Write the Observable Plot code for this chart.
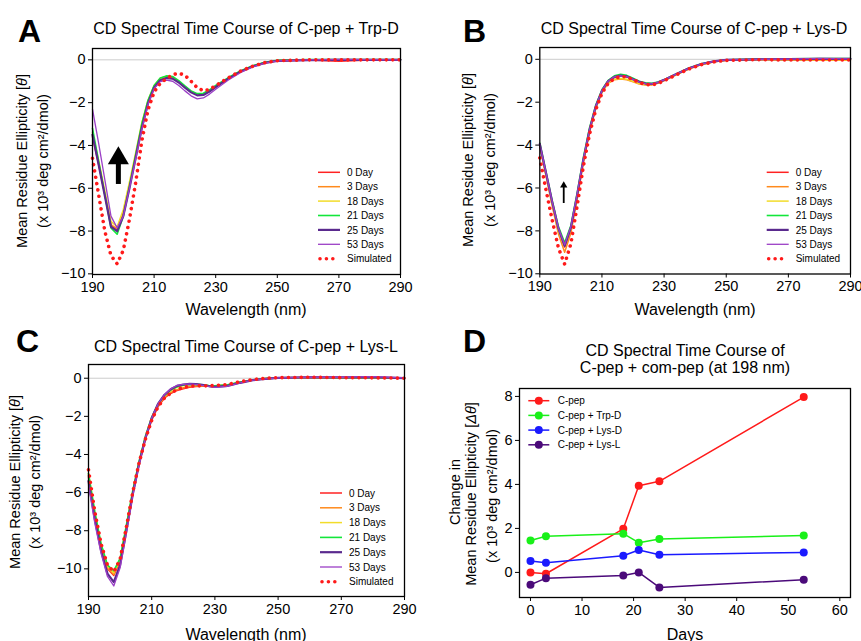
<!DOCTYPE html>
<html><head><meta charset="utf-8">
<script src="https://cdn.jsdelivr.net/npm/d3@7"></script>
<script src="https://cdn.jsdelivr.net/npm/@observablehq/plot@0.6"></script>
<style>
body{margin:0;background:#fff;}
#fig{position:relative;width:861px;height:641px;overflow:hidden;background:#fff;}
.panel{position:absolute;}
.panel svg{max-width:none !important;}
</style></head><body><div id="fig"></div>
<script>
const FONT = '"Liberation Sans", Arial, sans-serif';

// ---------- Spectral data (x 10^3 deg cm2/dmol) ----------
const wavelengths = [190,192,194,196,198,200,202,204,206,208,210,212,214,216,218,220,222,224,226,228,230,234,238,242,246,250,260,270,280,290];
const wavelengthTicks = [190,210,230,250,270,290];
const seriesNames = ["0 Day","3 Days","18 Days","21 Days","25 Days","53 Days","Simulated"];
const seriesColors = ["#ff2222","#ff8a1c","#f2dc2a","#12e63a","#5a2a8e","#9b3fc6","#ff1a1a"];
const seriesWidths = [1.5,1.5,1.5,1.6,2.2,1.3];

const trpD = [
  [-3.6,-4.9,-6.3,-7.75,-7.95,-7.2,-5.9,-4.5,-3.1,-2.0,-1.27,-0.92,-0.8,-0.83,-1.02,-1.27,-1.5,-1.64,-1.62,-1.46,-1.26,-0.88,-0.55,-0.3,-0.13,-0.04,-0.01,-0.06,-0.01,0],
  [-3.5,-4.85,-6.25,-7.7,-7.9,-7.15,-5.85,-4.45,-3.05,-1.98,-1.25,-0.9,-0.8,-0.84,-1.03,-1.28,-1.5,-1.63,-1.6,-1.45,-1.25,-0.87,-0.54,-0.3,-0.13,-0.04,0,-0.02,0,0],
  [-3.4,-4.7,-6.1,-7.55,-7.8,-7.0,-5.7,-4.35,-2.95,-1.9,-1.2,-0.86,-0.76,-0.8,-1.0,-1.25,-1.47,-1.6,-1.58,-1.43,-1.23,-0.86,-0.53,-0.29,-0.12,-0.03,0,0,0,0],
  [-3.2,-4.75,-6.3,-7.85,-8.15,-7.3,-5.9,-4.45,-3.0,-1.9,-1.2,-0.85,-0.75,-0.78,-0.97,-1.22,-1.45,-1.58,-1.56,-1.4,-1.2,-0.84,-0.52,-0.28,-0.11,-0.02,0.01,0.01,0.01,0.01],
  [-3.5,-4.9,-6.35,-7.8,-8.0,-7.3,-6.0,-4.6,-3.2,-2.05,-1.3,-0.95,-0.85,-0.88,-1.06,-1.3,-1.52,-1.66,-1.64,-1.48,-1.27,-0.89,-0.56,-0.31,-0.14,-0.05,-0.01,0,0,0],
  [-2.3,-3.9,-5.6,-7.3,-7.85,-7.3,-6.0,-4.65,-3.25,-2.1,-1.35,-1.02,-0.95,-1.0,-1.2,-1.45,-1.68,-1.82,-1.78,-1.6,-1.37,-0.95,-0.6,-0.33,-0.15,-0.05,0,0.02,0.01,0],
  [-4.6,-6.3,-8.0,-9.15,-9.53,-8.9,-7.45,-5.75,-3.8,-2.35,-1.5,-1.1,-0.88,-0.7,-0.62,-0.72,-1.0,-1.3,-1.45,-1.38,-1.2,-0.85,-0.53,-0.3,-0.13,-0.04,0,0,0,0]
];
const lysD = [
  [-4.0,-5.35,-6.7,-7.95,-8.75,-7.9,-6.4,-4.75,-3.35,-2.25,-1.5,-1.05,-0.85,-0.78,-0.82,-0.95,-1.07,-1.15,-1.17,-1.1,-0.98,-0.7,-0.44,-0.24,-0.11,-0.04,-0.01,-0.02,-0.03,-0.02],
  [-4.05,-5.45,-6.85,-8.15,-9.0,-8.1,-6.55,-4.85,-3.4,-2.3,-1.55,-1.12,-0.95,-0.92,-0.95,-1.05,-1.15,-1.2,-1.2,-1.12,-1.0,-0.72,-0.45,-0.25,-0.12,-0.05,-0.02,-0.03,-0.03,-0.03],
  [-4.0,-5.4,-6.75,-8.0,-8.7,-7.9,-6.4,-4.75,-3.35,-2.27,-1.52,-1.1,-0.93,-0.9,-0.93,-1.03,-1.13,-1.18,-1.18,-1.1,-0.98,-0.7,-0.44,-0.24,-0.11,-0.04,-0.01,-0.02,-0.02,-0.02],
  [-3.9,-5.25,-6.6,-7.8,-8.55,-7.75,-6.25,-4.6,-3.2,-2.15,-1.42,-0.98,-0.77,-0.7,-0.75,-0.88,-1.02,-1.1,-1.12,-1.06,-0.95,-0.67,-0.41,-0.21,-0.09,-0.02,0.01,0.02,0.03,0.04],
  [-3.95,-5.3,-6.65,-7.9,-8.7,-7.85,-6.35,-4.7,-3.3,-2.2,-1.47,-1.02,-0.82,-0.76,-0.8,-0.93,-1.05,-1.13,-1.15,-1.08,-0.96,-0.68,-0.42,-0.22,-0.1,-0.03,0,0.01,0.02,0.02],
  [-3.95,-5.3,-6.65,-7.88,-8.65,-7.8,-6.3,-4.68,-3.28,-2.2,-1.46,-1.02,-0.82,-0.77,-0.81,-0.94,-1.06,-1.13,-1.15,-1.08,-0.96,-0.68,-0.42,-0.22,-0.1,-0.03,0,0.01,0.04,0.02],
  [-4.6,-6.1,-7.5,-8.8,-9.55,-8.6,-6.85,-5.0,-3.5,-2.35,-1.58,-1.12,-0.9,-0.8,-0.82,-0.95,-1.08,-1.17,-1.2,-1.13,-1.0,-0.72,-0.45,-0.25,-0.12,-0.05,-0.02,-0.03,-0.03,-0.03]
];
const lysL = [
  [-5.2,-7.2,-8.9,-10.0,-10.35,-9.6,-7.85,-6.05,-4.5,-3.2,-2.2,-1.5,-1.05,-0.8,-0.64,-0.55,-0.48,-0.44,-0.42,-0.42,-0.42,-0.36,-0.22,-0.1,-0.03,0.01,0.04,0.03,0.03,0],
  [-5.1,-7.15,-8.85,-9.95,-10.3,-9.55,-7.8,-6.0,-4.45,-3.15,-2.15,-1.45,-1.0,-0.75,-0.6,-0.5,-0.44,-0.41,-0.4,-0.41,-0.41,-0.35,-0.21,-0.09,-0.02,0.02,0.04,0.03,0.03,0],
  [-5.0,-7.05,-8.75,-9.85,-10.2,-9.5,-7.75,-5.95,-4.4,-3.1,-2.1,-1.38,-0.92,-0.65,-0.48,-0.38,-0.34,-0.33,-0.35,-0.38,-0.4,-0.35,-0.21,-0.09,-0.02,0.02,0.04,0.03,0.04,0],
  [-5.0,-7.0,-8.7,-9.8,-10.1,-9.45,-7.7,-5.9,-4.35,-3.05,-2.05,-1.35,-0.9,-0.62,-0.45,-0.36,-0.32,-0.32,-0.35,-0.38,-0.4,-0.35,-0.2,-0.08,-0.02,0.02,0.04,0.03,0.04,0.01],
  [-5.4,-7.4,-9.05,-10.25,-10.7,-9.8,-8.0,-6.1,-4.5,-3.15,-2.1,-1.35,-0.88,-0.58,-0.4,-0.33,-0.3,-0.31,-0.35,-0.41,-0.45,-0.4,-0.24,-0.1,-0.03,0.02,0.05,0.04,0.06,0.01],
  [-5.6,-7.6,-9.2,-10.4,-10.9,-9.95,-8.1,-6.15,-4.55,-3.15,-2.1,-1.35,-0.87,-0.56,-0.38,-0.32,-0.3,-0.32,-0.37,-0.43,-0.48,-0.42,-0.25,-0.1,-0.03,0.02,0.05,0.05,0.08,0.02],
  [-4.8,-7.0,-8.7,-9.8,-10.15,-9.5,-7.8,-6.0,-4.45,-3.2,-2.2,-1.5,-1.05,-0.78,-0.6,-0.48,-0.42,-0.4,-0.4,-0.4,-0.38,-0.33,-0.18,-0.07,0,0.03,0.05,0.03,0.02,0]
];
const arrowA = [{x: 198.4, y1: -5.8, y2: -4.6}];
const arrowB = [{x: 197.7, y1: -6.7, y2: -5.88}];

// ---------- Panel D data ----------
const days = [0, 3, 18, 21, 25, 53];
const dayTicks = [0, 10, 20, 30, 40, 50, 60];
const compNames = ["C-pep", "C-pep + Trp-D", "C-pep + Lys-D", "C-pep + Lys-L"];
const compColors = ["#ff1a1a", "#19f019", "#1a1aff", "#4b0a7a"];
const cpepDelta = [0, -0.06, 1.98, 3.94, 4.14, 7.97];
const trpDDelta = [1.45, 1.64, 1.76, 1.35, 1.52, 1.68];
const lysDDelta = [0.52, 0.44, 0.76, 1.02, 0.80, 0.91];
const lysLDelta = [-0.56, -0.26, -0.14, 0.0, -0.68, -0.33];

// ---------- helpers ----------
const DOT = {width: 3.6, dash: "0.01,6.4", cap: "round"};
const fig = document.getElementById("fig");
function mount(svg, left, top) {
  const d = document.createElement("div");
  d.className = "panel"; d.style.left = left + "px"; d.style.top = top + "px";
  d.appendChild(svg); fig.appendChild(d);
}
function txt(svg, x, y, parts, o = {}) {
  const t = d3.select(svg).append("text")
    .attr("x", x).attr("y", y)
    .attr("font-family", FONT)
    .attr("font-size", o.size || 14)
    .attr("font-weight", o.weight || "normal")
    .attr("text-anchor", o.anchor || "start")
    .attr("fill", "#000");
  if (o.rotate) t.attr("transform", `rotate(-90 ${x} ${y})`);
  (Array.isArray(parts) ? parts : [[parts]]).forEach(([s, st]) => {
    const sp = t.append("tspan").text(s);
    if (st === "i") sp.attr("font-style", "italic");
  });
  return t;
}
function styleObj() {
  return {fontFamily: FONT, fontSize: "14.5px", color: "#000", background: "transparent", overflow: "visible"};
}

function spectra(values, cfg) {
  const marks = [Plot.ruleY([0], {stroke: "#cccccc", strokeWidth: 1})];
  for (let i = 0; i < 6; i++) {
    const data = wavelengths.map((w, j) => ({w, v: values[i][j]}));
    marks.push(Plot.line(data, {x: "w", y: "v", stroke: seriesColors[i], strokeWidth: seriesWidths[i]}));
  }
  const sim = wavelengths.map((w, j) => ({w, v: values[6][j]}));
  marks.push(Plot.line(sim, {x: "w", y: "v", stroke: seriesColors[6], strokeWidth: DOT.width, strokeDasharray: DOT.dash, strokeLinecap: DOT.cap}));
  if (cfg.arrow) {
    marks.push(Plot.link(cfg.arrow, {x1: "x", x2: "x", y1: "y1", y2: "y2", stroke: "#000", strokeWidth: cfg.arrowShaft}));
    marks.push(Plot.dot(cfg.arrow, {x: "x", y: "y2", symbol: "triangle", r: cfg.arrowHead, fill: "#000", stroke: "none"}));
  }
  marks.push(Plot.frame({stroke: "#000", strokeWidth: 1.3}));
  return Plot.plot({
    width: cfg.width, height: cfg.height,
    marginLeft: cfg.m[0], marginRight: cfg.m[1], marginTop: cfg.m[2], marginBottom: cfg.m[3],
    x: {domain: [190, 290], ticks: wavelengthTicks, label: null, tickSize: 4, tickPadding: 3},
    y: {domain: cfg.yDomain, ticks: cfg.yTicks, label: null, tickSize: 4, tickPadding: 3},
    style: styleObj(),
    marks
  });
}
function spectraLegend(svg, x0, y0, dy) {
  const g = d3.select(svg).append("g");
  seriesNames.forEach((n, i) => {
    const y = y0 + i * dy;
    const l = g.append("line").attr("y1", y).attr("y2", y).attr("stroke", seriesColors[i]);
    if (i === 6) l.attr("x1", x0 + 2).attr("x2", x0 + 21).attr("stroke-width", DOT.width).attr("stroke-dasharray", DOT.dash).attr("stroke-linecap", DOT.cap);
    else l.attr("x1", x0).attr("x2", x0 + 22).attr("stroke-width", seriesWidths[i]);
    txt(svg, x0 + 29, y + 3.6, n, {size: 10});
  });
}
function spectraLabels(svg, p) {
  txt(svg, p.letter[0], p.letter[1], p.letterText, {size: 32, weight: "bold"});
  txt(svg, p.title[0], p.title[1], p.titleText, {size: 16, anchor: "middle"});
  txt(svg, p.yl1[0], p.yl1[1], [["Mean Residue Ellipticity ["], ["θ", "i"], ["]"]], {size: 14.5, anchor: "middle", rotate: true});
  txt(svg, p.yl2[0], p.yl2[1], "(x 10³ deg cm²/dmol)", {size: 14.5, anchor: "middle", rotate: true});
  txt(svg, p.xl[0], p.xl[1], "Wavelength (nm)", {size: 16, anchor: "middle"});
}

// ---------- Panel A ----------
const svgA = spectra(trpD, {width: 430, height: 320, m: [92, 30, 48, 46], yDomain: [-10.03, 0.53], yTicks: [0,-2,-4,-6,-8,-10], arrow: arrowA, arrowShaft: 5, arrowHead: 7.8});
spectraLabels(svgA, {letter: [18, 42], letterText: "A", title: [246, 34], titleText: "CD Spectral Time Course of C-pep + Trp-D", yl1: [27, 161], yl2: [47.5, 161], xl: [246, 315]});
spectraLegend(svgA, 318, 172.3, 14.4);
mount(svgA, 0, 0);

// ---------- Panel B ----------
const svgB = spectra(lysD, {width: 431, height: 320, m: [109.3, 11, 47, 46.5], yDomain: [-10.01, 0.55], yTicks: [0,-2,-4,-6,-8,-10], arrow: arrowB, arrowShaft: 1.8, arrowHead: 2.7});
spectraLabels(svgB, {letter: [33, 42], letterText: "B", title: [264, 34], titleText: "CD Spectral Time Course of C-pep + Lys-D", yl1: [43, 160], yl2: [64.5, 160], xl: [265, 315]});
spectraLegend(svgB, 336.7, 172.3, 14.4);
mount(svgB, 430, 0);

// ---------- Panel C ----------
const svgC = spectra(lysL, {width: 430, height: 321, m: [88, 26, 44, 45], yDomain: [-11.45, 0.72], yTicks: [0,-2,-4,-6,-8,-10]});
spectraLabels(svgC, {letter: [16, 32], letterText: "C", title: [246, 31.7], titleText: "CD Spectral Time Course of C-pep + Lys-L", yl1: [20.3, 162], yl2: [40.3, 162], xl: [246, 320]});
spectraLegend(svgC, 320, 173, 14.8);
mount(svgC, 0, 320);

// ---------- Panel D ----------
const comp = [cpepDelta, trpDDelta, lysDDelta, lysLDelta];
const marksD = [];
comp.forEach((vals, i) => {
  const data = days.map((d, j) => ({d, v: vals[j]}));
  marksD.push(Plot.line(data, {x: "d", y: "v", stroke: compColors[i], strokeWidth: 1.5}));
  marksD.push(Plot.dot(data, {x: "d", y: "v", fill: compColors[i], r: 4, stroke: "none"}));
});
marksD.push(Plot.frame({stroke: "#000", strokeWidth: 1.3}));
const svgD = Plot.plot({
  width: 431, height: 321,
  marginLeft: 89, marginRight: 11, marginTop: 68, marginBottom: 44,
  x: {domain: [-2.13, 62.07], ticks: dayTicks, label: null, tickSize: 4, tickPadding: 3},
  y: {domain: [-1.14, 8.36], ticks: [0, 2, 4, 6, 8], label: null, tickSize: 4, tickPadding: 3},
  style: styleObj(),
  marks: marksD
});
txt(svgD, 33, 32, "D", {size: 32, weight: "bold"});
txt(svgD, 255, 36, "CD Spectral Time Course of", {size: 16, anchor: "middle"});
txt(svgD, 255, 53, "C-pep + com-pep (at 198 nm)", {size: 16, anchor: "middle"});
txt(svgD, 30, 172, "Change in", {size: 14.5, anchor: "middle", rotate: true});
txt(svgD, 46, 174, [["Mean Residue Ellipticity ["], ["Δθ", "i"], ["]"]], {size: 14.5, anchor: "middle", rotate: true});
txt(svgD, 66.5, 176, "(x 10³ deg cm²/dmol)", {size: 14.5, anchor: "middle", rotate: true});
txt(svgD, 255, 320, "Days", {size: 16, anchor: "middle"});
{
  const g = d3.select(svgD).append("g");
  compNames.forEach((n, i) => {
    const y = 80.7 + i * 14.7;
    g.append("line").attr("x1", 98.3).attr("x2", 119.3).attr("y1", y).attr("y2", y).attr("stroke", compColors[i]).attr("stroke-width", 1.5);
    g.append("circle").attr("cx", 108.8).attr("cy", y).attr("r", 4).attr("fill", compColors[i]);
    txt(svgD, 127.7, y + 3.6, n, {size: 10});
  });
}
mount(svgD, 430, 320);
</script></body></html>
